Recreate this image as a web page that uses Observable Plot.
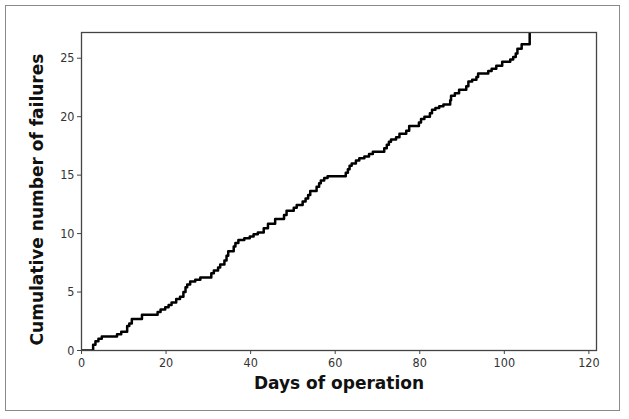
<!DOCTYPE html>
<html>
<head>
<meta charset="utf-8">
<script src="https://cdn.jsdelivr.net/npm/d3@7"></script>
<script src="https://cdn.jsdelivr.net/npm/@observablehq/plot@0.6"></script>
<style>
  html, body { margin: 0; padding: 0; background: #fff; }
  #wrap { position: relative; width: 629px; height: 419px; }
  #border { position: absolute; left: 5px; top: 5px; width: 615px; height: 406px; border: 1.5px solid #8a8a8a; box-sizing: border-box; }
  #chart { position: absolute; left: 0; top: 0; }
</style>
</head>
<body>
<div id="wrap"><div id="border"></div><div id="chart"></div></div>
<script>
// Step points: day at which the cumulative count jumps, and the value after the jump
const days = [0, 2.75, 3.3, 4.0, 4.8, 8.4, 9.4, 10.8, 11.3, 11.9, 14.3, 18.0, 18.7, 19.8, 20.6, 21.3, 22.4, 23.3, 24.1, 24.6, 25.0, 25.7, 26.9, 28.1, 30.7, 31.3, 32.3, 32.8, 33.8, 34.3, 34.7, 36.0, 36.4, 37.1, 38.5, 39.8, 40.7, 41.7, 43.1, 44.1, 45.8, 47.9, 48.5, 50.2, 50.9, 52.3, 53.0, 53.6, 54.1, 55.6, 56.2, 56.6, 57.4, 58.2, 62.5, 63.0, 63.4, 63.9, 64.9, 65.7, 66.9, 68.0, 68.9, 71.6, 72.2, 72.7, 73.2, 74.4, 75.2, 76.8, 77.5, 79.8, 80.3, 81.1, 82.4, 82.9, 83.7, 84.6, 85.6, 87.2, 87.4, 88.3, 89.3, 91.0, 91.5, 92.4, 93.4, 93.8, 96.2, 97.0, 98.1, 99.5, 101.4, 102.1, 102.7, 103.1, 104.1, 106.0];
const failures = [0, 0.5, 0.8, 1.0, 1.2, 1.4, 1.6, 2.1, 2.3, 2.7, 3.05, 3.3, 3.5, 3.7, 3.9, 4.1, 4.4, 4.6, 5.0, 5.4, 5.65, 5.9, 6.05, 6.25, 6.6, 6.85, 7.1, 7.35, 7.7, 8.1, 8.5, 8.9, 9.2, 9.45, 9.6, 9.75, 9.95, 10.1, 10.45, 10.85, 11.25, 11.6, 11.95, 12.2, 12.45, 12.75, 13.0, 13.3, 13.65, 14.0, 14.3, 14.55, 14.75, 14.9, 15.2, 15.5, 15.8, 16.0, 16.25, 16.45, 16.6, 16.8, 17.0, 17.3, 17.6, 17.85, 18.05, 18.25, 18.55, 18.8, 19.2, 19.5, 19.8, 20.0, 20.3, 20.6, 20.75, 20.9, 21.05, 21.4, 21.8, 22.0, 22.3, 22.6, 23.0, 23.15, 23.4, 23.7, 23.9, 24.1, 24.35, 24.7, 24.9, 25.1, 25.4, 25.8, 26.2, 28];
const xTicks = [0, 20, 40, 60, 80, 100, 120];
const yTicks = [0, 5, 10, 15, 20, 25];
const xTitle = "Days of operation";
const yTitle = "Cumulative number of failures";

const data = days.map((d, i) => ({day: d, n: failures[i]}));

const chart = Plot.plot({
  width: 629,
  height: 419,
  marginLeft: 81,
  marginRight: 33,
  marginTop: 32,
  marginBottom: 69,
  style: {fontFamily: "'DejaVu Sans Condensed', 'DejaVu Sans', sans-serif", fontSize: "12px", color: "#333", background: "transparent"},
  x: {domain: [0, 121.8], ticks: xTicks, tickSize: 4, tickPadding: 4, label: null},
  y: {domain: [0, 27.2], ticks: yTicks, tickSize: 4, tickPadding: 3, label: null},
  marks: [
    Plot.line(data, {x: "day", y: "n", curve: "step-after", stroke: "#000", strokeWidth: 2.5, clip: true}),
    Plot.frame({stroke: "#444", strokeWidth: 1.3}),
    Plot.axisX({ticks: xTicks, tickSize: 4, tickPadding: 4, stroke: "#444", fill: "#333", fontSize: 12.5, label: null}),
    Plot.axisY({ticks: yTicks, tickSize: 4, tickPadding: 3, stroke: "#444", fill: "#333", fontSize: 12.5, label: null}),
    Plot.text([xTitle], {frameAnchor: "bottom", dy: 38, text: d => d, fontFamily: "'DejaVu Sans', sans-serif", fontWeight: "bold", fontSize: 17, fill: "#111"}),
    Plot.text([yTitle], {frameAnchor: "left", dx: -44, dy: 8, rotate: -90, textAnchor: "middle", text: d => d, fontFamily: "'DejaVu Sans', sans-serif", fontWeight: "bold", fontSize: 17, fill: "#111"})
  ]
});
document.getElementById("chart").appendChild(chart);
</script>
</body>
</html>
